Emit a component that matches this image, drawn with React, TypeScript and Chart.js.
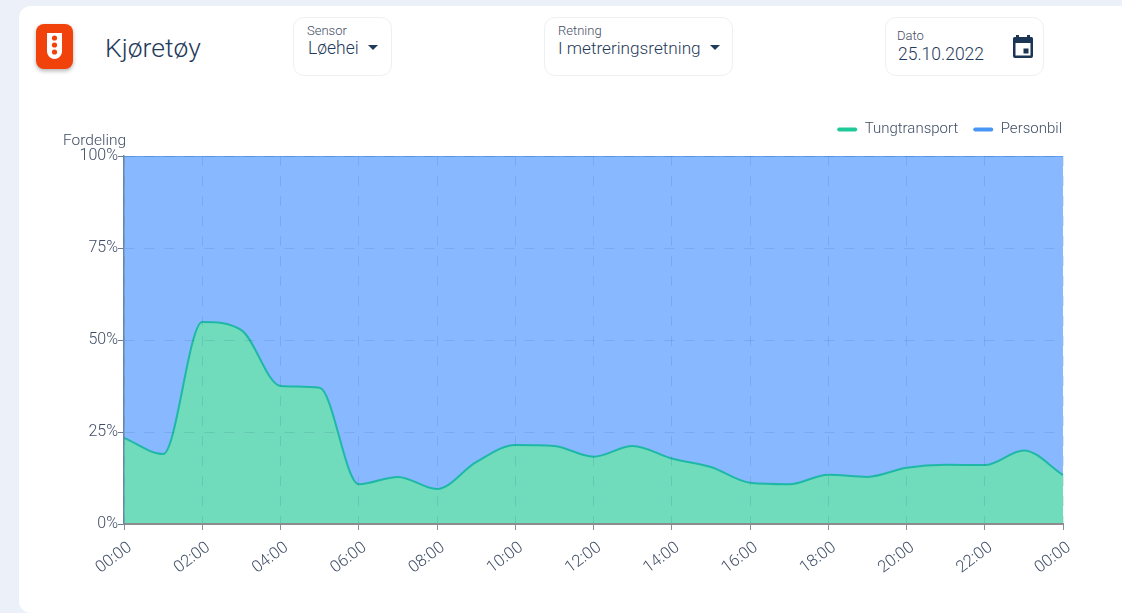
import React, { useEffect, useRef } from "react";
import { Chart, registerables } from "chart.js";

Chart.register(...registerables);

const hours = ["00:00","01:00","02:00","03:00","04:00","05:00","06:00","07:00","08:00","09:00","10:00","11:00","12:00","13:00","14:00","15:00","16:00","17:00","18:00","19:00","20:00","21:00","22:00","23:00","00:00"];
const tungtransport = [23.4,19,54.9,52.7,37.5,37,10.8,12.8,9.5,16.8,21.5,21.2,18.3,21.2,17.8,15.5,11.2,10.8,13.4,12.8,15.3,16.1,16,20,13.3];
const personbil = [76.6,81,45.1,47.3,62.5,63,89.2,87.2,90.5,83.2,78.5,78.8,81.7,78.8,82.2,84.5,88.8,89.2,86.6,87.2,84.7,83.9,84,80,86.7];

const FONT = "Roboto, sans-serif";
const INK = "#1f3a5a";
const MUTED = "#3f4d65";

const abs = (x: number, y: number, extra: React.CSSProperties = {}): React.CSSProperties => ({
  position: "absolute", left: x, top: y, whiteSpace: "nowrap", ...extra,
});

function Box({ x, y, w, h }: { x: number; y: number; w: number; h: number }) {
  return <div style={abs(x, y, { width: w, height: h, boxSizing: "border-box", border: "1px solid #eef0f4", borderRadius: 11, background: "#fff" })} />;
}

function Caret({ x, y }: { x: number; y: number }) {
  return <div style={abs(x, y, { width: 0, height: 0, borderLeft: "5px solid transparent", borderRight: "5px solid transparent", borderTop: "5px solid " + INK })} />;
}

const moveLegend = {
  id: "moveLegend",
  afterLayout(c: any) {
    const l = c.legend;
    if (!l) return;
    l.left += 14;
    l.right += 14;
    l.top -= 9;
    l.bottom -= 9;
  },
};

export default function App() {
  const ref = useRef<HTMLCanvasElement>(null);
  useEffect(() => {
    document.body.style.margin = "0";
    const chart = new Chart(ref.current!, {
      type: "line",
      plugins: [moveLegend],
      data: {
        labels: hours,
        datasets: [
          { label: "Tungtransport", data: tungtransport, borderColor: "#1fb8a6", backgroundColor: "#70dcbc", borderWidth: 2, fill: "origin", pointRadius: 0, cubicInterpolationMode: "monotone" },
          { label: "Personbil", data: personbil, borderColor: "#5d9ff5", backgroundColor: "#88b8ff", borderWidth: 2, fill: "-1", pointRadius: 0, cubicInterpolationMode: "monotone" },
        ],
      },
      options: {
        animation: false,
        responsive: false,
        layout: { padding: { left: 0, right: 59, top: 116, bottom: 0 } },
        plugins: {
          tooltip: { enabled: false },
          legend: {
            position: "top",
            align: "end",
            labels: {
              usePointStyle: false,
              boxWidth: 20,
              boxHeight: 4,
              padding: 15,
              color: MUTED,
              font: { family: FONT, size: 15, weight: 300 },
              generateLabels: (c: Chart) =>
                c.data.datasets.map((d: any, i: number) => ({
                  text: d.label, fontColor: MUTED, fillStyle: i === 0 ? "#1fc99a" : "#4a96f5", strokeStyle: "transparent", lineWidth: 0, datasetIndex: i, borderRadius: 2,
                })),
            },
          },
        },
        scales: {
          x: {
            type: "category",
            offset: false,
            afterFit: (s: any) => { s.height = 89; },
            grid: { color: "rgba(45,75,125,0.14)", tickColor: "#8a8f98", tickLength: 6, z: 1 },
            border: { color: "#8c8c8c", width: 2, dash: [10, 10], z: 2 },
            ticks: { autoSkip: true, maxTicksLimit: 13, minRotation: 37, maxRotation: 37, labelOffset: 6, padding: 8, color: MUTED, font: { family: FONT, size: 16.5, weight: 300 } },
          },
          y: {
            stacked: true,
            min: 0,
            max: 100,
            afterFit: (s: any) => { s.width = 124; },
            grid: { color: "rgba(45,75,125,0.14)", tickColor: "#6f7b8c", tickLength: 6, z: 1 },
            border: { color: "#6787ad", width: 1.500, dash: [10, 10], z: 2 },
            ticks: { stepSize: 25, padding: 0, color: MUTED, font: { family: FONT, size: 16, weight: 300 }, callback: (v: any) => v + "%" },
          },
        },
      },
    } as any);
    return () => chart.destroy();
  }, []);

  return (
    <div style={{ position: "relative", width: 1122, height: 613, background: "#ecf0f9", overflow: "hidden", fontFamily: FONT, fontWeight: 300, color: INK }}>
      <div style={abs(19, 6, { width: 1140, height: 607, background: "#fff", borderRadius: "12px 12px 0 12px" })} />
      <div style={abs(36, 24, { width: 37, height: 45, background: "#f1420c", borderRadius: 8, boxShadow: "0 2px 4px rgba(0,0,0,0.3)" })}>
        <svg width="37" height="45" viewBox="0 0 37 45">
          <path d="M11 9h15v18c0 4-3 8-7.500 8S11 31 11 27z" fill="#fff" />
          <circle cx="18.500" cy="14" r="2.600" fill="#f1420c" />
          <circle cx="18.500" cy="21" r="2.600" fill="#f1420c" />
          <circle cx="18.500" cy="28" r="2.600" fill="#f1420c" />
        </svg>
      </div>
      <div style={abs(105, 31, { fontSize: 26.500, lineHeight: "34px" })}>Kjøretøy</div>

      <Box x={293} y={17} w={99} h={59} />
      <div style={abs(307, 23, { fontSize: 13, lineHeight: "15px", color: MUTED })}>Sensor</div>
      <div style={abs(308, 38, { fontSize: 17.500, lineHeight: "20px" })}>Løehei</div>
      <Caret x={368} y={45} />

      <Box x={544} y={17} w={189} h={59} />
      <div style={abs(558, 23, { fontSize: 13, lineHeight: "15px", color: MUTED })}>Retning</div>
      <div style={abs(558, 38, { fontSize: 17.200, lineHeight: "20px" })}>I metreringsretning</div>
      <Caret x={710} y={45} />

      <Box x={885} y={17} w={159} h={59} />
      <div style={abs(897, 28, { fontSize: 13, lineHeight: "15px", color: MUTED })}>Dato</div>
      <div style={abs(898, 44, { fontSize: 17.500, lineHeight: "21px" })}>25.10.2022</div>
      <svg style={abs(1011, 32)} width="24" height="28" viewBox="0 0 24 28">
        <path d="M5 3h3v2h8V3h3v2h1.500A1.500 1.500 0 0 1 22 6.500V24a2 2 0 0 1-2 2H4a2 2 0 0 1-2-2V6.500A1.500 1.500 0 0 1 3.500 5H5zM4.500 11v12.500h15V11z" fill="#1b3554" />
        <rect x="12.500" y="16.500" width="5" height="5" fill="#1b3554" />
      </svg>

      <canvas ref={ref} width={1122} height={613} style={{ position: "absolute", left: 0, top: 0 }} />
      <div style={abs(63, 131, { fontSize: 15.500, lineHeight: "18px", color: MUTED })}>Fordeling</div>
    </div>
  );
}
